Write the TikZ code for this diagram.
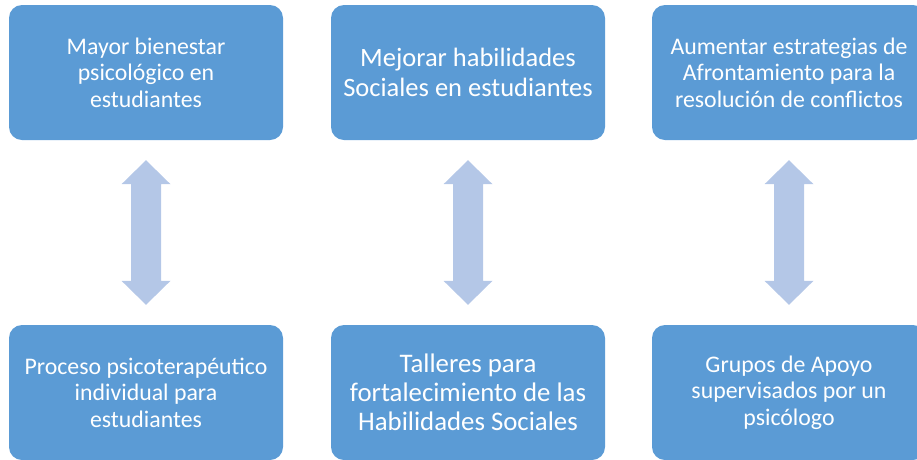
\documentclass[tikz,border=0pt]{standalone}
\usepackage{fontspec}
\setmainfont{Carlito}
\usetikzlibrary{calc}
\definecolor{psyBlue}{HTML}{5B9BD5}
\definecolor{psyArrow}{HTML}{B4C7E7}
\tikzset{
  psy box/.style={rectangle, rounded corners=13pt, fill=psyBlue, text=white, minimum width=274pt, minimum height=135pt, inner sep=0pt, align=center},
  psy text/.style={font=\fontsize{23.8}{26.5}\selectfont},
  psy mid text/.style={font=\fontsize{26.8}{28.8}\selectfont},
  psy big text/.style={font=\fontsize{26.5}{30}\selectfont},
  psy arrow/.style={fill=psyArrow},
}

\begin{document}
\begin{tikzpicture}[x=1pt,y=-1pt]
  \useasboundingbox (0,0) rectangle (917,459);
  \clip (0,0) rectangle (917,459);
  % Top row: goals
  \node[psy box, psy text] (goal1) at (146,72.5) {Mayor bienestar\\psicológico en\\estudiantes};
  \node[psy box, psy big text] (goal2) at (468,72.5) {Mejorar habilidades\\Sociales en estudiantes};
  \node[psy box, psy text] (goal3) at (789,72.5) {Aumentar estrategias de\\Afrontamiento para la\\resolución de conflictos};
  % Bottom row: actions
  \node[psy box, psy text] (act1) at (146,392.5) {Proceso psicoterapéutico\\individual para\\estudiantes};
  \node[psy box, psy mid text] (act2) at (468,392.5) {Talleres para\\fortalecimiento de las\\Habilidades Sociales};
  \node[psy box, psy text] (act3) at (789,392.5) {Grupos de Apoyo\\supervisados por un\\psicólogo};
  % Double block arrows between each pair
  \foreach \i in {1,2,3} {
    \coordinate (tipA) at ($(goal\i.south)+(0,20)$);
    \coordinate (tipB) at ($(act\i.north)+(0,-20)$);
    \fill[psy arrow] (tipA) -- ($(tipA)+(24.5,24)$) -- ($(tipA)+(15,24)$)
      -- ($(tipB)+(15,-24)$) -- ($(tipB)+(24.5,-24)$) -- (tipB)
      -- ($(tipB)+(-24.5,-24)$) -- ($(tipB)+(-15,-24)$)
      -- ($(tipA)+(-15,24)$) -- ($(tipA)+(-24.5,24)$) -- cycle;
  }
\end{tikzpicture}
\end{document}
